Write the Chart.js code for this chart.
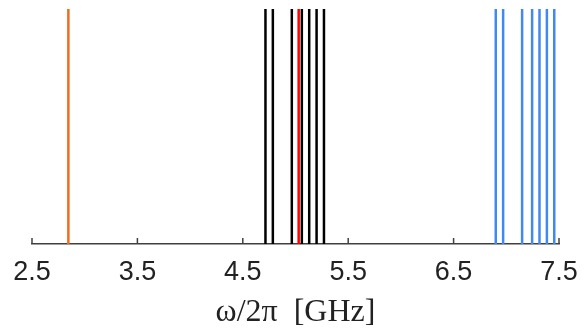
<!DOCTYPE html>
<html>
<head>
<meta charset="utf-8">
<script src="https://cdn.jsdelivr.net/npm/chart.js@4/dist/chart.umd.min.js"></script>
<style>
html,body{margin:0;padding:0;background:#fff;}
#wrap{width:584px;height:334px;position:relative;}
</style>
</head>
<body>
<div id="wrap"><canvas id="c"></canvas></div>
<script>
// Frequencies (GHz) of the vertical lines
const orangeFreqs = [2.845];
const blackFreqs = [4.715, 4.785, 4.965, 5.06, 5.13, 5.2, 5.27];
const redFreqs = [5.03];
const blueFreqs = [6.9, 6.97, 7.15, 7.245, 7.315, 7.385, 7.455];
const tickValues = [2.5, 3.5, 4.5, 5.5, 6.5, 7.5];
const xMin = 2.5, xMax = 7.5;

function lineSets(freqs, color) {
  return freqs.map(f => ({
    data: [{x: f, y: 0}, {x: f, y: 1}],
    borderColor: color,
    borderWidth: 2.5,
    pointRadius: 0,
    fill: false,
    tension: 0
  }));
}

const datasets = [
  ...lineSets(orangeFreqs, '#EE6C1E'),
  ...lineSets(blackFreqs, '#000000'),
  ...lineSets(redFreqs, '#FF0000'),
  ...lineSets(blueFreqs, '#4189F2')
];

const inwardTicks = {
  id: 'inwardTicks',
  afterDraw(chart) {
    const xs = chart.scales.x;
    const ctx = chart.ctx;
    const y0 = chart.chartArea.bottom;
    ctx.save();
    ctx.strokeStyle = '#404040';
    ctx.lineWidth = 1.5;
    tickValues.forEach(v => {
      const px = xs.getPixelForValue(v);
      ctx.beginPath();
      ctx.moveTo(px, y0);
      ctx.lineTo(px, y0 - 6);
      ctx.stroke();
    });
    ctx.restore();
  }
};

new Chart(document.getElementById('c'), {
  type: 'line',
  data: {datasets},
  plugins: [inwardTicks],
  options: {
    responsive: true,
    maintainAspectRatio: false,
    animation: false,
    layout: {padding: {left: 32, right: 25, top: 9, bottom: 0}},
    plugins: {legend: {display: false}, tooltip: {enabled: false}},
    scales: {
      x: {
        type: 'linear',
        min: xMin, max: xMax,
        afterBuildTicks: s => { s.ticks = tickValues.map(v => ({value: v})); },
        afterFit: s => { s.height = 90; s.paddingLeft = 0; s.paddingRight = 0; },
        grid: {display: false, drawTicks: false},
        border: {display: true, color: '#404040', width: 1.5},
        ticks: {
          autoSkip: false, maxRotation: 0, padding: 12,
          color: '#222',
          font: {family: '"Liberation Sans", Arial, sans-serif', size: 27},
          callback: v => v.toFixed(1)
        },
        title: {
          display: true,
          text: 'ω/2π  [GHz]',
          color: '#222',
          font: {family: '"Liberation Serif", "DejaVu Serif", serif', size: 32},
          padding: {top: 0, bottom: 2}
        }
      },
      y: {
        type: 'linear', min: 0, max: 1, display: false
      }
    }
  }
});
</script>
</body>
</html>
